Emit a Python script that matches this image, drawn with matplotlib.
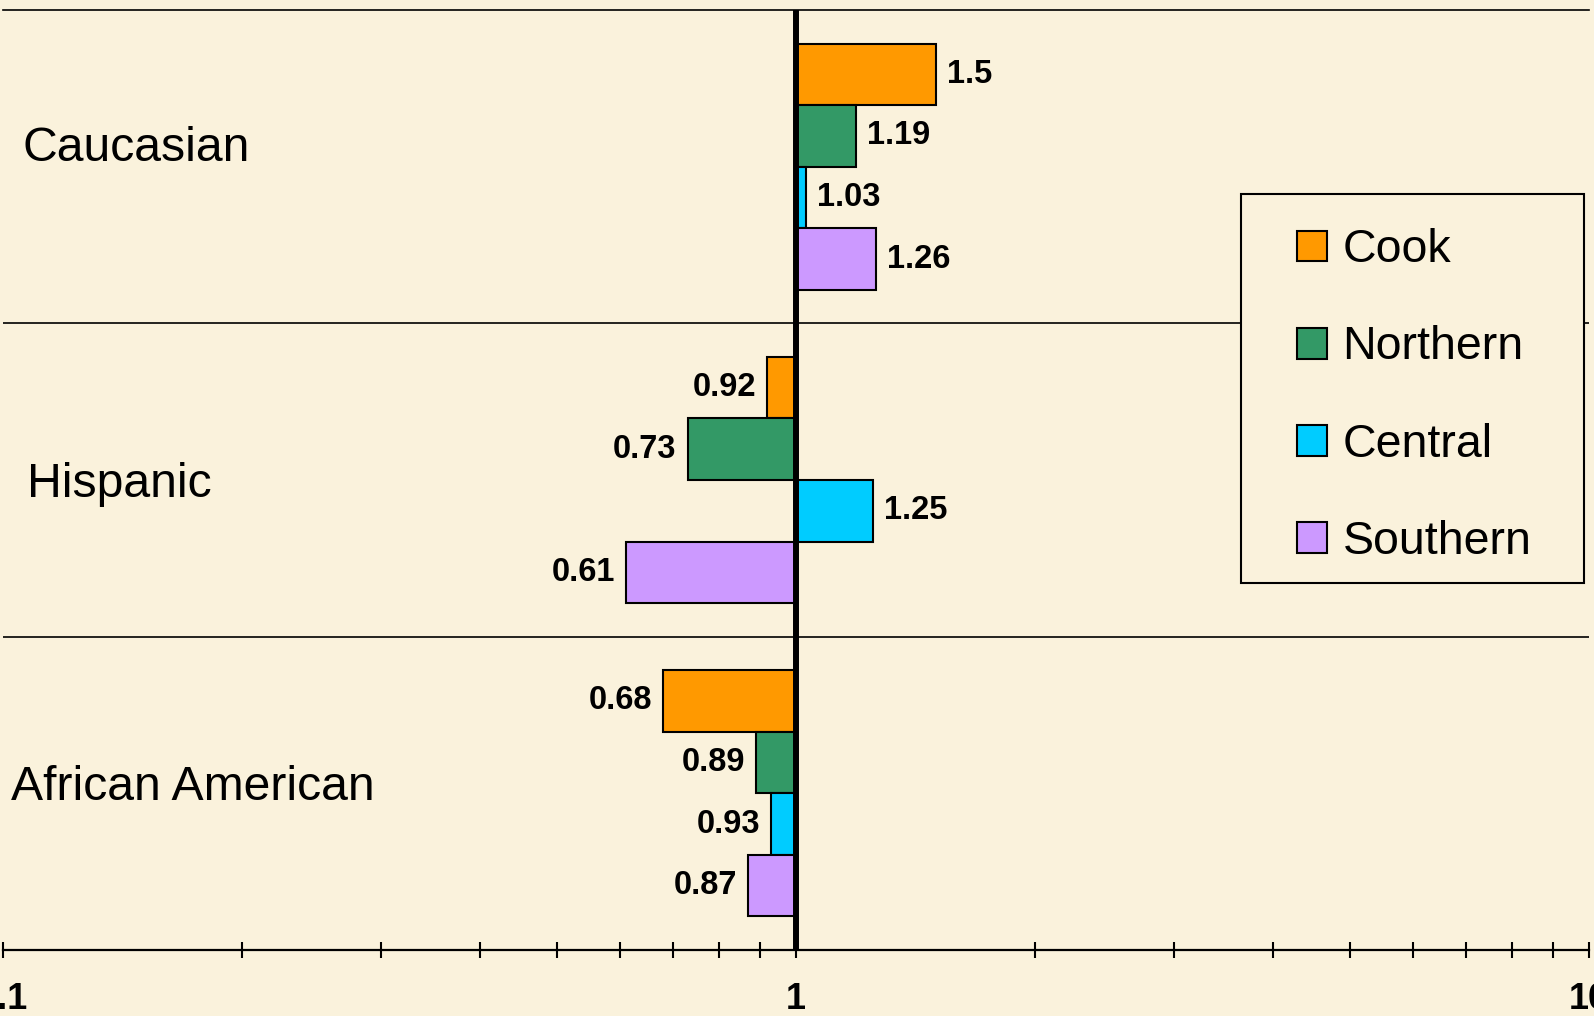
import matplotlib
matplotlib.use("Agg")
import matplotlib.pyplot as plt
from matplotlib.patches import Rectangle, Patch
from matplotlib.ticker import FixedLocator, NullFormatter
import numpy as np

plt.rcParams['font.family'] = ['Liberation Sans', 'DejaVu Sans']

categories = ["Caucasian", "Hispanic", "African American"]
series = ["Cook", "Northern", "Central", "Southern"]
cook = [1.5, 0.92, 0.68]
northern = [1.19, 0.73, 0.89]
central = [1.03, 1.25, 0.93]
southern = [1.26, 0.61, 0.87]
tick_values = [0.1, 1, 10]
tick_labels = ["0.1", "1", "10"]

colors = ["#FF9900", "#339966", "#00CCFF", "#CC99FF"]
bg = "#FAF2DC"

W, H = 1594, 1016
fig = plt.figure(figsize=(W / 100, H / 100), dpi=100, facecolor=bg)
ax = fig.add_axes([3 / W, (H - 950) / H, (1589 - 3) / W, (950 - 10) / H])
ax.set_facecolor(bg)

ax.set_xscale('log')
ax.set_xlim(0.1, 10)
ax.set_ylim(2.5, -0.5)

bar_h = 0.1965
vals = [cook, northern, central, southern]
ypos = np.arange(len(categories))
for i, (name, v, c) in enumerate(zip(series, vals, colors)):
    y = ypos + (i - 1.5) * bar_h
    v = np.array(v)
    ax.barh(y, v - 1, left=1, height=bar_h, color=c, edgecolor='black',
            linewidth=1.5, label=name, zorder=3)
    for yy, vv in zip(y, v):
        if vv >= 1:
            ax.annotate(f"{vv:g}", (vv, yy), xytext=(8, 0), textcoords='offset points',
                        ha='left', va='center', fontsize=23.5, fontweight='bold', zorder=5)
        else:
            ax.annotate(f"{vv:g}", (vv, yy), xytext=(-8, 0), textcoords='offset points',
                        ha='right', va='center', fontsize=23.5, fontweight='bold', zorder=5)

ax.axvline(1, color='black', linewidth=4.3, zorder=4)

# category separators
for b in [0.5, 1.5]:
    ax.axhline(b, color='black', linewidth=1.2, zorder=1)

for s in ['left', 'right']:
    ax.spines[s].set_visible(False)
ax.spines['top'].set_linewidth(1.2)
ax.spines['bottom'].set_linewidth(1.6)

ax.set_yticks([])
ax.xaxis.set_major_locator(FixedLocator(tick_values))
ax.set_xticklabels(tick_labels, fontsize=26, fontweight='bold')
minor = [m * d for d in [0.1, 1] for m in range(2, 10)]
ax.xaxis.set_minor_locator(FixedLocator(minor))
ax.xaxis.set_minor_formatter(NullFormatter())
ax.tick_params(axis='x', which='both', direction='inout', length=12, width=1.5, pad=17)

# category labels
label_pos = [(0.0120, -0.018), (0.0152, 1.054), (0.0050, 2.021)]
for cat, (xf, yd) in zip(categories, label_pos):
    ax.text(xf, yd, cat, transform=ax.get_yaxis_transform(), fontsize=34.7,
            ha='left', va='baseline', zorder=5)

# legend frame
fig.patches.append(Rectangle((1241 / W, 1 - 583 / H), (1584 - 1241) / W, (583 - 194) / H,
                             transform=fig.transFigure, facecolor=bg, edgecolor='black',
                             linewidth=1.5, zorder=10))
handles = [Patch(facecolor=c, edgecolor='black', linewidth=1.5) for c in colors]
leg = fig.legend(handles, series, loc='center left', bbox_to_anchor=(1297 / W, 1 - 396 / H),
                 frameon=False, fontsize=33.5, borderpad=0, borderaxespad=0,
                 handlelength=0.64, handleheight=0.64, handletextpad=0.34,
                 labelspacing=1.14)
leg.set_zorder(11)

fig.savefig("out.png", dpi=100, facecolor=bg)
